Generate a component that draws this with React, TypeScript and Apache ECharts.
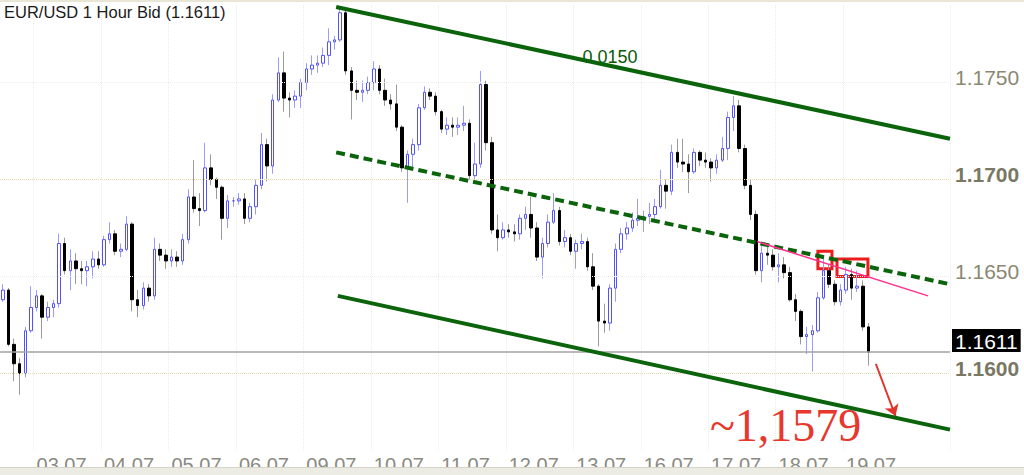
import React, { useEffect, useRef } from 'react';
import * as echarts from 'echarts';

// Trading days shown (2-hour candles); first day partial, last day partial
const days = ['02.07', '03.07', '04.07', '05.07', '06.07', '09.07', '10.07', '11.07', '12.07', '13.07', '16.07', '17.07', '18.07', '19.07'];
const candlesPerDay = [6, 12, 12, 12, 12, 12, 12, 12, 12, 12, 12, 12, 12, 5];
const totalSlots = 169;

const opens = [
  1.1638, 1.1643, 1.1615, 1.1605, 1.1600, 1.1622,
  1.1634, 1.1640, 1.1629, 1.1634, 1.1636, 1.1667, 1.1653, 1.1658, 1.1654, 1.1653, 1.1655, 1.1659,
  1.1656, 1.1669, 1.1672, 1.1663, 1.1664, 1.1677, 1.1638, 1.1635, 1.1644, 1.1640, 1.1664, 1.1661,
  1.1658, 1.1660, 1.1658, 1.1669, 1.1691, 1.1685, 1.1684, 1.1706, 1.1700, 1.1696, 1.1680, 1.1689,
  1.1689, 1.1690, 1.1680, 1.1686, 1.1697, 1.1718, 1.1707, 1.1741, 1.1755, 1.1742, 1.1741, 1.1743,
  1.1750, 1.1757, 1.1759, 1.1760, 1.1764, 1.1771, 1.1772, 1.1786, 1.1756, 1.1746, 1.1745, 1.1746,
  1.1750, 1.1757, 1.1746, 1.1741, 1.1739, 1.1727, 1.1706, 1.1713, 1.1718, 1.1737, 1.1745, 1.1743,
  1.1735, 1.1726, 1.1728, 1.1727, 1.1728, 1.1729, 1.1702, 1.1708, 1.1749, 1.1719, 1.1674, 1.1670,
  1.1674, 1.1673, 1.1672, 1.1680, 1.1682, 1.1675, 1.1660, 1.1667, 1.1678, 1.1684, 1.1668, 1.1670,
  1.1663, 1.1667, 1.1668, 1.1655, 1.1645, 1.1627, 1.1626, 1.1644, 1.1664, 1.1672, 1.1675, 1.1679,
  1.1680, 1.1681, 1.1682, 1.1686, 1.1697, 1.1694, 1.1714, 1.1709, 1.1708, 1.1704, 1.1714, 1.1710,
  1.1709, 1.1706, 1.1710, 1.1716, 1.1732, 1.1738, 1.1716, 1.1697, 1.1682, 1.1653, 1.1662, 1.1661,
  1.1655, 1.1656, 1.1652, 1.1638, 1.1632, 1.1619, 1.1620, 1.1622, 1.1639, 1.1653, 1.1646, 1.1637,
  1.1643, 1.1651, 1.1644, 1.1645, 1.1624,
];
const closes = [
  1.1643, 1.1615, 1.1605, 1.1600, 1.1622, 1.1634,
  1.1640, 1.1629, 1.1634, 1.1636, 1.1667, 1.1653, 1.1658, 1.1654, 1.1653, 1.1655, 1.1659, 1.1656,
  1.1669, 1.1672, 1.1663, 1.1664, 1.1677, 1.1638, 1.1635, 1.1644, 1.1640, 1.1664, 1.1661, 1.1658,
  1.1660, 1.1658, 1.1669, 1.1691, 1.1685, 1.1684, 1.1706, 1.1700, 1.1696, 1.1680, 1.1689, 1.1689,
  1.1690, 1.1680, 1.1686, 1.1697, 1.1718, 1.1707, 1.1741, 1.1755, 1.1742, 1.1741, 1.1743, 1.1750,
  1.1757, 1.1759, 1.1760, 1.1764, 1.1771, 1.1772, 1.1786, 1.1756, 1.1746, 1.1745, 1.1746, 1.1750,
  1.1757, 1.1746, 1.1741, 1.1739, 1.1727, 1.1706, 1.1713, 1.1718, 1.1737, 1.1745, 1.1743, 1.1735,
  1.1726, 1.1728, 1.1727, 1.1728, 1.1729, 1.1702, 1.1708, 1.1749, 1.1719, 1.1674, 1.1670, 1.1674,
  1.1673, 1.1672, 1.1680, 1.1682, 1.1675, 1.1660, 1.1667, 1.1678, 1.1684, 1.1668, 1.1670, 1.1663,
  1.1667, 1.1668, 1.1655, 1.1645, 1.1627, 1.1626, 1.1644, 1.1664, 1.1672, 1.1675, 1.1679, 1.1680,
  1.1681, 1.1682, 1.1686, 1.1697, 1.1694, 1.1714, 1.1709, 1.1708, 1.1704, 1.1714, 1.1710, 1.1709,
  1.1706, 1.1710, 1.1716, 1.1732, 1.1738, 1.1716, 1.1697, 1.1682, 1.1653, 1.1662, 1.1661, 1.1655,
  1.1656, 1.1652, 1.1638, 1.1632, 1.1619, 1.1620, 1.1622, 1.1639, 1.1653, 1.1646, 1.1637, 1.1643,
  1.1651, 1.1644, 1.1645, 1.1624, 1.1611,
];
const lows = [
  1.1637, 1.1614, 1.1596, 1.1589, 1.1598, 1.1621,
  1.1632, 1.1618, 1.1627, 1.1629, 1.1634, 1.1651, 1.1643, 1.1646, 1.1646, 1.1645, 1.1649, 1.1654,
  1.1655, 1.1667, 1.1661, 1.1660, 1.1663, 1.1632, 1.1629, 1.1633, 1.1637, 1.1638, 1.1658, 1.1654,
  1.1655, 1.1655, 1.1656, 1.1667, 1.1683, 1.1676, 1.1683, 1.1697, 1.1690, 1.1669, 1.1675, 1.1686,
  1.1687, 1.1677, 1.1678, 1.1682, 1.1695, 1.1699, 1.1703, 1.1740, 1.1735, 1.1732, 1.1737, 1.1737,
  1.1746, 1.1754, 1.1755, 1.1758, 1.1759, 1.1767, 1.1771, 1.1754, 1.1731, 1.1741, 1.1740, 1.1744,
  1.1746, 1.1744, 1.1738, 1.1736, 1.1725, 1.1704, 1.1688, 1.1705, 1.1715, 1.1736, 1.1741, 1.1733,
  1.1724, 1.1723, 1.1722, 1.1723, 1.1725, 1.1700, 1.1700, 1.1706, 1.1715, 1.1672, 1.1663, 1.1669,
  1.1670, 1.1668, 1.1669, 1.1674, 1.1670, 1.1658, 1.1649, 1.1665, 1.1677, 1.1666, 1.1665, 1.1661,
  1.1654, 1.1664, 1.1653, 1.1643, 1.1614, 1.1621, 1.1622, 1.1637, 1.1662, 1.1669, 1.1673, 1.1676,
  1.1673, 1.1677, 1.1678, 1.1685, 1.1685, 1.1692, 1.1706, 1.1704, 1.1693, 1.1703, 1.1707, 1.1706,
  1.1699, 1.1703, 1.1709, 1.1710, 1.1725, 1.1714, 1.1695, 1.1679, 1.1651, 1.1647, 1.1656, 1.1653,
  1.1647, 1.1649, 1.1637, 1.1627, 1.1615, 1.1610, 1.1601, 1.1621, 1.1638, 1.1644, 1.1635, 1.1635,
  1.1641, 1.1638, 1.1642, 1.1622, 1.1604,
];
const highs = [
  1.1646, 1.1644, 1.1618, 1.1608, 1.1624, 1.1645,
  1.1643, 1.1641, 1.1637, 1.1638, 1.1672, 1.1670, 1.1664, 1.1662, 1.1658, 1.1658, 1.1663, 1.1663,
  1.1671, 1.1678, 1.1674, 1.1667, 1.1681, 1.1678, 1.1643, 1.1647, 1.1646, 1.1670, 1.1667, 1.1664,
  1.1664, 1.1663, 1.1672, 1.1695, 1.1710, 1.1693, 1.1719, 1.1713, 1.1701, 1.1697, 1.1692, 1.1691,
  1.1693, 1.1693, 1.1688, 1.1700, 1.1724, 1.1721, 1.1744, 1.1763, 1.1766, 1.1745, 1.1746, 1.1752,
  1.1760, 1.1764, 1.1764, 1.1768, 1.1778, 1.1774, 1.1788, 1.1787, 1.1758, 1.1751, 1.1751, 1.1753,
  1.1761, 1.1759, 1.1752, 1.1744, 1.1749, 1.1728, 1.1715, 1.1721, 1.1739, 1.1748, 1.1747, 1.1745,
  1.1736, 1.1732, 1.1732, 1.1732, 1.1738, 1.1731, 1.1719, 1.1756, 1.1751, 1.1722, 1.1682, 1.1678,
  1.1677, 1.1677, 1.1682, 1.1686, 1.1691, 1.1678, 1.1670, 1.1682, 1.1693, 1.1686, 1.1674, 1.1672,
  1.1669, 1.1672, 1.1670, 1.1662, 1.1646, 1.1636, 1.1646, 1.1667, 1.1675, 1.1678, 1.1683, 1.1690,
  1.1684, 1.1688, 1.1690, 1.1705, 1.1700, 1.1718, 1.1721, 1.1721, 1.1713, 1.1716, 1.1715, 1.1714,
  1.1711, 1.1713, 1.1722, 1.1735, 1.1743, 1.1741, 1.1718, 1.1700, 1.1684, 1.1667, 1.1666, 1.1664,
  1.1662, 1.1660, 1.1655, 1.1641, 1.1633, 1.1624, 1.1625, 1.1642, 1.1660, 1.1656, 1.1648, 1.1646,
  1.1655, 1.1654, 1.1653, 1.1648, 1.1626,
];

const yTicks = [1.16, 1.165, 1.17, 1.175];
const majorLevels = [1.17, 1.16];
const minorLevels = [1.175, 1.165];
const lastPrice = closes[closes.length - 1];

// Trend channel (x in candle-slot units, y in price)
const channelUpper = [[59.3, 1.1789], [168.5, 1.1721]];
const channelMid = [[59.3, 1.1714], [168.5, 1.1646]];
const channelLower = [[59.6, 1.1640], [168.5, 1.1571]];
const channelWidthLabel = { text: '0.0150', at: [108.0, 1.1763] };
const pinkTrend = [[134.2, 1.1668], [164.6, 1.1640]];
const redBoxes = [
  [[145.0, 1.1663], [147.5, 1.1654]],
  [[148.4, 1.1659], [153.9, 1.1650]],
];
const arrowLine = [[155.3, 1.1605], [158.8, 1.1578]];
const targetLabel = { text: '~1,1579', at: [139.25, 1.1573] };

const SANS = '"Liberation Sans", Arial, Helvetica, sans-serif';

export default function App() {
  const ref = useRef<HTMLDivElement>(null);

  useEffect(() => {
    if (!ref.current) return;
    const chart = echarts.init(ref.current, null, { renderer: 'svg' });

    const categories: string[] = [];
    days.forEach((d, di) => {
      const n = candlesPerDay[di];
      const start = di === 0 ? 24 - 2 * n : 0;
      for (let k = 0; k < n; k++) {
        const h = start + 2 * k;
        categories.push(`${d} ${h < 10 ? '0' + h : h}`);
      }
    });
    let pad = 0;
    while (categories.length < totalSlots) categories.push(`pad${pad++}`);

    const ohlc = opens.map((o, i) => [o, closes[i], lows[i], highs[i]]);
    const bodies = opens.map((o, i) => [o, closes[i], Math.min(o, closes[i]), Math.max(o, closes[i])]);

    const isDayStart = (_i: number, v: string) => typeof v === 'string' && v.endsWith(' 00');

    const green = '#0b640b';

    const option: any = {
      animation: false,
      backgroundColor: '#ffffff',
      title: {
        text: `EUR/USD 1 Hour Bid (${lastPrice.toFixed(4)})`,
        left: 4,
        top: 3,
        padding: 0,
        textStyle: { fontSize: 16.5, fontWeight: 'normal', color: '#1a1a1a', fontFamily: SANS },
      },
      grid: { left: 0, right: 74, top: 5, bottom: 22 },
      xAxis: [
        {
          type: 'category',
          data: categories,
          boundaryGap: true,
          axisLine: { show: false },
          axisTick: { show: false },
          axisLabel: {
            interval: isDayStart,
            formatter: (v: string) => v.split(' ')[0],
            align: 'left',
            margin: 4,
            fontSize: 20,
            color: '#8a8a82',
            fontFamily: SANS,
          },
          splitLine: {
            show: true,
            interval: isDayStart,
            lineStyle: { color: '#ebebeb', type: 'dotted', width: 1 },
          },
        },
        { type: 'value', min: -0.5, max: totalSlots - 0.5, show: false },
      ],
      yAxis: {
        type: 'value',
        position: 'right',
        min: 1.156,
        max: 1.179,
        axisLine: { show: false },
        axisTick: { show: false },
        splitLine: { show: false },
        axisLabel: {
          customValues: yTicks,
          margin: 5,
          padding: [0, 0, 10, 0],
          formatter: (v: number) => {
            const major = majorLevels.some((m) => Math.abs(m - v) < 1e-7);
            return major ? `{b|${v.toFixed(4)}}` : `{n|${v.toFixed(4)}}`;
          },
          rich: {
            n: { fontSize: 21, color: '#8a8872', fontFamily: SANS },
            b: { fontSize: 21, color: '#7a7862', fontWeight: 'bold', fontFamily: SANS },
          },
        },
      },
      series: [
        {
          type: 'candlestick',
          name: 'wicks',
          data: ohlc,
          barWidth: 1,
          silent: true,
          itemStyle: {
            color: '#9a9aff',
            color0: '#9a9a9a',
            borderColor: '#9a9aff',
            borderColor0: '#9a9a9a',
            borderWidth: 1,
          },
          z: 2,
        },
        {
          type: 'candlestick',
          name: 'bodies',
          data: bodies,
          barWidth: 3,
          silent: true,
          itemStyle: {
            color: '#ffffff',
            color0: '#000000',
            borderColor: '#5252ff',
            borderColor0: '#000000',
            borderWidth: 1,
          },
          z: 3,
          markLine: {
            silent: true,
            symbol: 'none',
            precision: 6,
            animation: false,
            data: [
              ...majorLevels.map((y) => ({
                yAxis: y,
                lineStyle: { color: '#e4d9a8', type: 'dotted', width: 1 },
                label: { show: false },
              })),
              ...minorLevels.map((y) => ({
                yAxis: y,
                lineStyle: { color: '#ececec', type: 'dotted', width: 1 },
                label: { show: false },
              })),
              {
                yAxis: lastPrice,
                lineStyle: { color: '#a3a3a3', type: 'solid', width: 1.5 },
                label: {
                  show: true,
                  position: 'end',
                  distance: 2,
                  formatter: lastPrice.toFixed(4),
                  backgroundColor: '#000000',
                  color: '#ffffff',
                  fontSize: 21,
                  fontFamily: SANS,
                  padding: [2, 3, 0, 3],
                  verticalAlign: 'bottom',
                },
              },
            ],
          },
        },
        {
          type: 'line',
          name: 'upper',
          xAxisIndex: 1,
          data: channelUpper,
          symbol: 'none',
          silent: true,
          lineStyle: { color: green, width: 4 },
          z: 5,
          markPoint: {
            silent: true,
            symbol: 'rect',
            symbolSize: 1,
            itemStyle: { color: 'rgba(0,0,0,0)' },
            data: [
              {
                coord: channelWidthLabel.at,
                label: {
                  show: true,
                  position: 'inside',
                  formatter: channelWidthLabel.text,
                  fontSize: 18,
                  color: '#0a5a0a',
                  fontFamily: SANS,
                },
              },
            ],
          },
        },
        {
          type: 'line',
          name: 'mid',
          xAxisIndex: 1,
          data: channelMid,
          symbol: 'none',
          silent: true,
          lineStyle: { color: green, width: 4, type: [9, 5] },
          z: 5,
        },
        {
          type: 'line',
          name: 'lower',
          xAxisIndex: 1,
          data: channelLower,
          symbol: 'none',
          silent: true,
          lineStyle: { color: green, width: 4 },
          z: 5,
        },
        {
          type: 'line',
          name: 'pink',
          xAxisIndex: 1,
          data: pinkTrend,
          symbol: 'none',
          silent: true,
          lineStyle: { color: '#ff2f8e', width: 1.5 },
          z: 6,
          markArea: {
            silent: true,
            itemStyle: { color: 'rgba(0,0,0,0)', borderColor: '#ee1c1c', borderWidth: 3 },
            data: redBoxes.map(([a, b]) => [{ coord: a }, { coord: b }]),
          },
          markLine: {
            silent: true,
            symbol: ['none', 'arrow'],
            symbolSize: 11,
            precision: 6,
            lineStyle: { color: '#e0362c', width: 2, type: 'solid' },
            label: { show: false },
            data: [[{ coord: arrowLine[0] }, { coord: arrowLine[1] }]],
          },
          markPoint: {
            silent: true,
            symbol: 'rect',
            symbolSize: 1,
            itemStyle: { color: 'rgba(0,0,0,0)' },
            data: [
              {
                coord: targetLabel.at,
                label: {
                  show: true,
                  position: 'inside',
                  formatter: targetLabel.text,
                  fontSize: 46,
                  color: '#e8372c',
                  fontFamily: '"Liberation Serif", "Times New Roman", serif',
                },
              },
            ],
          },
        },
      ],
      graphic: [
        { type: 'rect', left: 0, top: 0, z: 100, shape: { width: 1024, height: 2 }, style: { fill: '#e9e6d6' } },
        { type: 'rect', left: 0, top: 467, z: 100, shape: { width: 1024, height: 8 }, style: { fill: '#ecebe4' } },
        { type: 'rect', left: 0, top: 467, z: 101, shape: { width: 1024, height: 1 }, style: { fill: '#d6d4c8' } },
      ],
    };

    chart.setOption(option);
    return () => chart.dispose();
  }, []);

  return (
    <div
      ref={ref}
      style={{ position: 'fixed', left: 0, top: 0, width: 1024, height: 475, background: '#fff' }}
    />
  );
}
